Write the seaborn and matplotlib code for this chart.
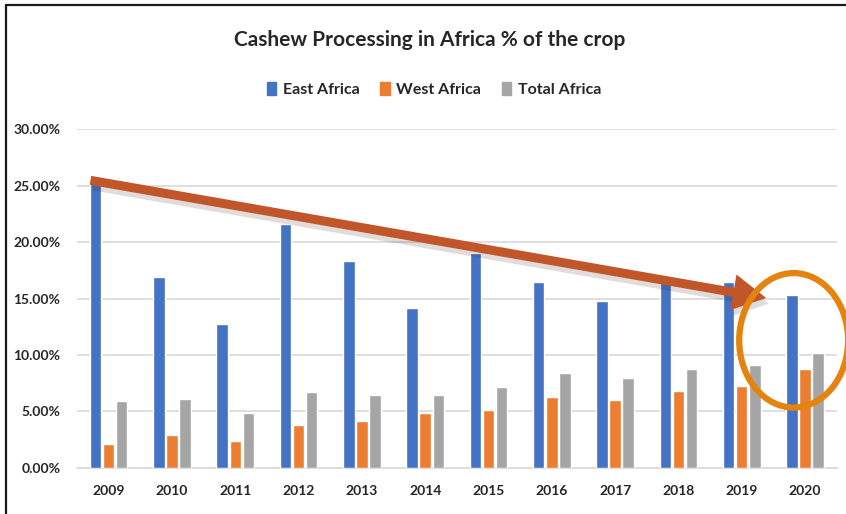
import numpy as np
import pandas as pd
import seaborn as sb
from matplotlib import pyplot as plt
from matplotlib.patches import Ellipse
from matplotlib.lines import Line2D
from matplotlib.ticker import PercentFormatter
import matplotlib.patheffects as pe

# data (fractions of the crop)
years = ['2009', '2010', '2011', '2012', '2013', '2014',
         '2015', '2016', '2017', '2018', '2019', '2020']
east_africa = [0.253, 0.169, 0.127, 0.216, 0.183, 0.142,
               0.190, 0.165, 0.148, 0.164, 0.165, 0.153]
west_africa = [0.021, 0.029, 0.024, 0.038, 0.042, 0.049,
               0.051, 0.063, 0.060, 0.068, 0.073, 0.088]
total_africa = [0.059, 0.061, 0.049, 0.067, 0.065, 0.065,
                0.072, 0.084, 0.080, 0.088, 0.091, 0.102]
series = ['East Africa', 'West Africa', 'Total Africa']
colours = ['#4472C4', '#ED7D31', '#A5A5A5']

df = pd.DataFrame({'year': years, 'East Africa': east_africa,
                   'West Africa': west_africa, 'Total Africa': total_africa})
long_df = df.melt(id_vars='year', var_name='region', value_name='share')

sb.set_style('white')
plt.rcParams['font.family'] = ['Lato', 'DejaVu Sans']

fig = plt.figure(figsize=(8.46, 5.14), dpi=100)
ax = fig.add_axes([0.091, 0.0895, 0.898, 0.6595])

sb.barplot(data=long_df, x='year', y='share', hue='region', hue_order=series,
           palette=colours, width=0.62, gap=0.12, saturation=1, ax=ax,
           legend=False, zorder=3)

ax.set_ylim(0, 0.30)
ax.set_xlim(-0.5, len(years) - 0.5)
ax.set_yticks(np.arange(0, 0.301, 0.05))
ax.yaxis.set_major_formatter(PercentFormatter(xmax=1, decimals=2))
ax.yaxis.grid(True, color='#D9D9D9', lw=1.2, zorder=0)
ax.set_axisbelow(True)
for s in ['left', 'right', 'top']:
    ax.spines[s].set_visible(False)
ax.spines['bottom'].set_color('#D9D9D9')
ax.spines['bottom'].set_linewidth(1.2)
ax.tick_params(axis='both', length=0, labelsize=10, pad=12)
for lab in ax.get_xticklabels() + ax.get_yticklabels():
    lab.set_fontweight('bold')
    lab.set_color('#262626')
ax.set_xlabel('')
ax.set_ylabel('')

fig.text(0.508, 0.922, 'Cashew Processing in Africa % of the crop',
         ha='center', va='center', fontsize=15, fontweight='bold', color='#262626')

handles = [plt.Rectangle((0, 0), 1, 1, color=c) for c in colours]
fig.legend(handles, series, loc='center', bbox_to_anchor=(0.513, 0.826), ncol=3,
           frameon=False, handlelength=0.6, handleheight=0.9, handletextpad=0.4,
           columnspacing=1.3, prop={'size': 11.5, 'weight': 'bold'},
           labelcolor='#262626')

# trend arrow from the 2009 peak down to 2019/2020
ax.annotate('', xy=(10.43, 0.150), xytext=(-0.33, 0.255),
            arrowprops=dict(arrowstyle='simple,head_width=2.6,head_length=2.4,tail_width=0.65',
                            mutation_scale=10, color='#C0562A', lw=0,
                            path_effects=[pe.SimplePatchShadow(offset=(2, -4), alpha=0.15),
                                          pe.Normal()]),
            zorder=5, annotation_clip=False)

# highlight ring around 2020
ax.add_patch(Ellipse((10.82, 0.113), width=1.72, height=0.119, fill=False,
                     edgecolor='#E4840F', lw=4.5, zorder=6, clip_on=False))

# frame lines of the screenshot
fig.add_artist(Line2D([6 / 846, 1], [1 - 5 / 514, 1 - 5 / 514], color='#1a1a1a', lw=1.6))
fig.add_artist(Line2D([6 / 846, 6 / 846], [0, 1 - 5 / 514], color='#1a1a1a', lw=1.6))

fig.savefig('out.png', dpi=100)
